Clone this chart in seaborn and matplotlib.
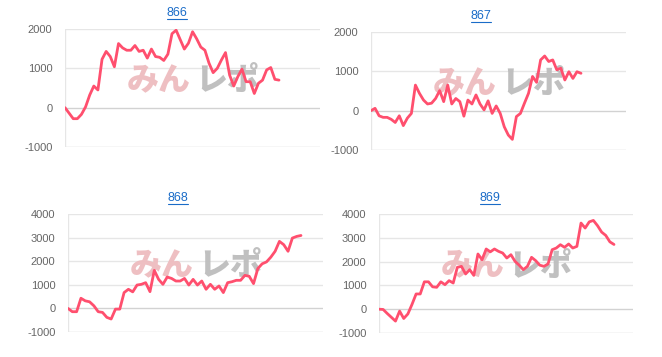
import numpy as np
import pandas as pd
import matplotlib
matplotlib.use("Agg")
import matplotlib.pyplot as plt
from matplotlib.lines import Line2D
import seaborn as sns

sns.set_style("white")
plt.rcParams['font.family'] = ['Liberation Sans', 'DejaVu Sans']

titles = ["866", "867", "868", "869"]

v866 = [0, -140, -280, -280, -170, 20, 320, 550, 450, 1230, 1430, 1300, 1040, 1630, 1520,
        1460, 1460, 1580, 1430, 1460, 1260, 1490, 1300, 1280, 1200, 1360, 1880, 1970, 1730,
        1490, 1640, 1930, 1750, 1540, 1460, 1130, 890, 1000, 1210, 1400, 830, 550, 790, 980,
        660, 660, 360, 620, 700, 960, 1020, 720, 700]
v867 = [0, 60, -130, -170, -170, -220, -300, -130, -380, -190, -70, 650, 440, 270, 170, 190,
        310, 510, 230, 650, 170, 310, 230, -140, 270, 170, 400, 170, 20, 250, -70, 120, -70,
        -410, -620, -730, -150, -70, 190, 440, 870, 720, 1290, 1390, 1250, 1290, 1040, 1080,
        780, 990, 820, 990, 950]
v868 = [0, -140, -140, 430, 320, 280, 110, -140, -170, -380, -450, -30, -30, 670, 810, 700,
        990, 1020, 1090, 710, 1610, 1230, 1020, 1330, 1270, 1160, 1160, 1270, 990, 1230, 990,
        1160, 810, 1020, 810, 950, 670, 1090, 1130, 1190, 1190, 1400, 1360, 1050, 1690, 1890,
        1970, 2170, 2420, 2840, 2700, 2420, 2980, 3050, 3090]
v869 = [0, -10, -180, -340, -500, -80, -390, -200, 200, 640, 640, 1150, 1150, 940, 920, 1150,
        1030, 1200, 1100, 1760, 1800, 1480, 1660, 1420, 2320, 2080, 2530, 2410, 2530, 2430,
        2360, 2150, 2290, 2010, 1850, 1660, 1800, 2180, 2040, 1850, 1800, 1900, 2500, 2570,
        2710, 2600, 2740, 2570, 2640, 3620, 3410, 3670, 3730, 3510, 3240, 3100, 2830, 2720]
series = [v866, v867, v868, v869]
yticks = [[-1000, 0, 1000, 2000], [-1000, 0, 1000, 2000],
          [-1000, 0, 1000, 2000, 3000, 4000], [-1000, 0, 1000, 2000, 3000, 4000]]

W, H = 662, 357
fig = plt.figure(figsize=(W / 100, H / 100), dpi=100)

# axes boxes in pixels: left, right, top, bottom
boxes = [(65, 320, 29, 147), (371, 626, 32, 150), (68, 323, 214, 332), (379, 633, 214, 333)]
# data end pixel x
ends = [279, 581, 301, 614]
title_pos = [(177, 13), (481, 16), (178, 198), (490, 198)]

line_color = "#ff4f6e"
grid_color = "#e6e6e6"
zero_color = "#d2d2d2"

title_texts = []
for i, (vals, (l, r, t, b)) in enumerate(zip(series, boxes)):
    ax = fig.add_axes([l / W, 1 - b / H, (r - l) / W, (b - t) / H])
    df = pd.DataFrame({"x": np.arange(len(vals)), "y": vals})
    n = len(vals) - 1
    xmax = n * (r - l) / (ends[i] - l)
    ax.set_xlim(0, xmax)
    yt = yticks[i]
    ax.set_ylim(yt[0], yt[-1])
    for yv in yt:
        ax.axhline(yv, color=zero_color if yv in (0, yt[0]) else grid_color,
                   lw=1.0, zorder=0.5)
    ax.axvline(0, color=grid_color, lw=1.0, zorder=0.5)
    # watermark
    ax.text(0.495, 0.565, "みん", transform=ax.transAxes, ha="right", va="center",
            fontsize=23, fontweight="black", color="#eebcbf", alpha=0.95,
            family=["Noto Sans CJK JP"], zorder=1)
    ax.text(0.51, 0.565, "レポ", transform=ax.transAxes, ha="left", va="center",
            fontsize=23, fontweight="black", color="#bdbdbd", alpha=0.95,
            family=["Noto Sans CJK JP"], zorder=1)
    sns.lineplot(data=df, x="x", y="y", ax=ax, color=line_color, lw=2.0, zorder=3)
    ax.set_xlabel("")
    ax.set_ylabel("")
    ax.set_xticks([])
    ax.set_yticks(yt)
    ax.set_yticklabels([str(v) for v in yt])
    ax.tick_params(axis="y", length=0, pad=9, labelsize=8, labelcolor="#666666")
    for s in ax.spines.values():
        s.set_visible(False)
    tx, ty = title_pos[i]
    tt = fig.text(tx / W, 1 - ty / H, titles[i], ha="center", va="center",
                  fontsize=9, color="#1a6cc8")
    title_texts.append(tt)

fig.canvas.draw()
renderer = fig.canvas.get_renderer()
for tt in title_texts:
    bb = tt.get_window_extent(renderer)
    y = bb.y0 + 0.5
    fig.add_artist(Line2D([bb.x0 / W, bb.x1 / W], [y / H, y / H],
                          transform=fig.transFigure, color="#1a6cc8", lw=0.8))

fig.savefig("out.png", dpi=100)
